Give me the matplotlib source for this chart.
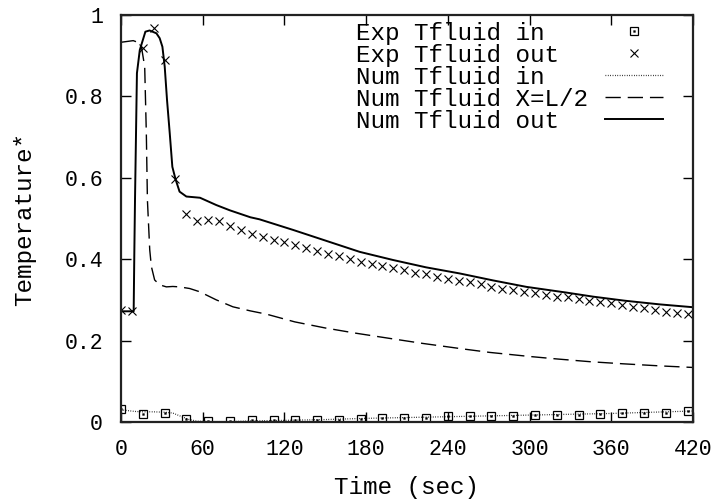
import numpy as np
import matplotlib
matplotlib.use("Agg")
import matplotlib.pyplot as plt
from matplotlib.legend_handler import HandlerTuple

plt.rcParams['font.family'] = ['Liberation Mono', 'DejaVu Sans Mono']

# ---------------- data ----------------
# Experimental outlet temperature (every 8 s)
exp_out_t = [8 * k for k in range(53)]
exp_out_T = [0.275, 0.272, 0.918, 0.967, 0.889, 0.597, 0.511, 0.494, 0.496, 0.493,
             0.482, 0.472, 0.463, 0.454, 0.447, 0.443, 0.435, 0.428, 0.421, 0.414,
             0.408, 0.400, 0.394, 0.388, 0.383, 0.378, 0.373, 0.367, 0.363, 0.357,
             0.351, 0.347, 0.343, 0.339, 0.332, 0.328, 0.324, 0.320, 0.316, 0.312,
             0.308, 0.306, 0.302, 0.298, 0.295, 0.292, 0.287, 0.283, 0.279, 0.275,
             0.271, 0.269, 0.265]

# Experimental inlet temperature (every 16 s)
exp_in_t = [16 * j for j in range(27)]
exp_in_T = [0.032, 0.019, 0.021, 0.008, 0.002, 0.002, 0.005, 0.005, 0.005, 0.005,
            0.005, 0.007, 0.009, 0.010, 0.011, 0.014, 0.014, 0.015, 0.015, 0.018,
            0.018, 0.018, 0.019, 0.021, 0.022, 0.023, 0.028]

# Numerical inlet temperature
num_in_t = [0, 5, 10, 16, 24, 32, 38, 44, 50, 56, 64, 80, 100, 120, 150, 180,
            210, 240, 270, 300, 330, 360, 390, 420]
num_in_T = [0.030, 0.028, 0.026, 0.025, 0.025, 0.024, 0.022, 0.014, 0.006, 0.002,
            0.001, 0.001, 0.003, 0.004, 0.006, 0.009, 0.011, 0.013, 0.015, 0.017,
            0.019, 0.021, 0.024, 0.027]

# Numerical temperature at X = L/2
num_mid_t = [0, 9, 13, 15, 17.4, 18.6, 19.4, 21.1, 22.3, 24.7, 28.4, 33.3, 38, 43,
             50.4, 57.8, 70, 82.2, 95, 106.8, 127.6, 150, 172.8, 200, 221.7, 250,
             270.7, 300, 319.7, 345, 368.6, 395, 420]
num_mid_T = [0.933, 0.937, 0.932, 0.922, 0.873, 0.709, 0.545, 0.423, 0.382, 0.349,
             0.337, 0.332, 0.333, 0.332, 0.328, 0.320, 0.300, 0.283, 0.273, 0.265,
             0.246, 0.231, 0.218, 0.204, 0.193, 0.180, 0.171, 0.161, 0.155, 0.148,
             0.143, 0.138, 0.134]

# Numerical outlet temperature
num_out_t = [0, 5, 9.3, 9.8, 10.3, 11.7, 13.8, 17.9, 21, 26, 28.4, 30.4, 32.1, 33.8,
             35.8, 37.7, 40, 43, 48, 58, 70, 80, 95, 101.7, 126.3, 150.8, 175.3,
             199.8, 224, 248.7, 273, 297.7, 327, 346.6, 370, 395.5, 420]
num_out_T = [0.272, 0.272, 0.272, 0.42, 0.55, 0.857, 0.914, 0.959, 0.962, 0.955,
             0.943, 0.922, 0.873, 0.791, 0.709, 0.627, 0.597, 0.566, 0.554, 0.551,
             0.533, 0.520, 0.503, 0.498, 0.472, 0.445, 0.418, 0.398, 0.380, 0.365,
             0.348, 0.332, 0.318, 0.308, 0.298, 0.289, 0.282]

x_ticks = [0, 60, 120, 180, 240, 300, 360, 420]
y_ticks = [0, 0.2, 0.4, 0.6, 0.8, 1]
y_tick_labels = ['0', '0.2', '0.4', '0.6', '0.8', '1']
legend_labels = ['Exp Tfluid in', 'Exp Tfluid out', 'Num Tfluid in',
                 'Num Tfluid X=L/2', 'Num Tfluid out']

# ---------------- figure ----------------
fig = plt.figure(figsize=(7.22, 5.0), dpi=100)
ax = fig.add_axes([121 / 722, 1 - 422 / 500, (693 - 121) / 722, (422 - 15) / 500])

h_sq, = ax.plot(exp_in_t, exp_in_T, linestyle='none', marker='s', markersize=5.2,
                markerfacecolor='none', markeredgecolor='black', markeredgewidth=0.9)
h_dot, = ax.plot(exp_in_t, exp_in_T, linestyle='none', marker='s', markersize=1.3,
                 markerfacecolor='black', markeredgecolor='black', markeredgewidth=0.3)
h_x, = ax.plot(exp_out_t, exp_out_T, linestyle='none', marker='x', markersize=5.5,
               markeredgecolor='black', markeredgewidth=0.8)
h_in, = ax.plot(num_in_t, num_in_T, color='black', linestyle=(0, (0.6, 1.3)), linewidth=0.9)
h_mid, = ax.plot(num_mid_t, num_mid_T, color='black', linestyle=(0, (11, 5)), linewidth=1.0)
h_out, = ax.plot(num_out_t, num_out_T, color='black', linestyle='-', linewidth=1.4)

ax.set_xlim(0, 420)
ax.set_ylim(0, 1)
ax.set_xticks(x_ticks)
ax.set_xticklabels([str(v) for v in x_ticks])
ax.set_yticks(y_ticks)
ax.set_yticklabels(y_tick_labels)
ax.tick_params(direction='in', length=7, width=1.0, top=True, right=True,
               labelsize=15.5, pad=13, color='black')
ax.tick_params(axis='x', pad=12)
for s in ax.spines.values():
    s.set_linewidth(1.6)
    s.set_color('#222222')

ax.set_xlabel('Time (sec)', fontsize=17.5, labelpad=12)
ax.set_ylabel('Temperature*', fontsize=17.5, labelpad=20)

width = max(len(s) for s in legend_labels)
padded = [s.ljust(width) for s in legend_labels]
leg = ax.legend([(h_sq, h_dot), h_x, h_in, h_mid, h_out], padded,
                handler_map={tuple: HandlerTuple(ndivide=1, pad=0)},
                loc='upper right', bbox_to_anchor=(663 / 722, 1 - 22 / 500),
                bbox_transform=fig.transFigure, frameon=False,
                markerfirst=False, fontsize=17.5, handlelength=2.4,
                labelspacing=-0.045, handletextpad=0.7, borderaxespad=0,
                borderpad=0, numpoints=1)

fig.savefig('out.png', dpi=100)
